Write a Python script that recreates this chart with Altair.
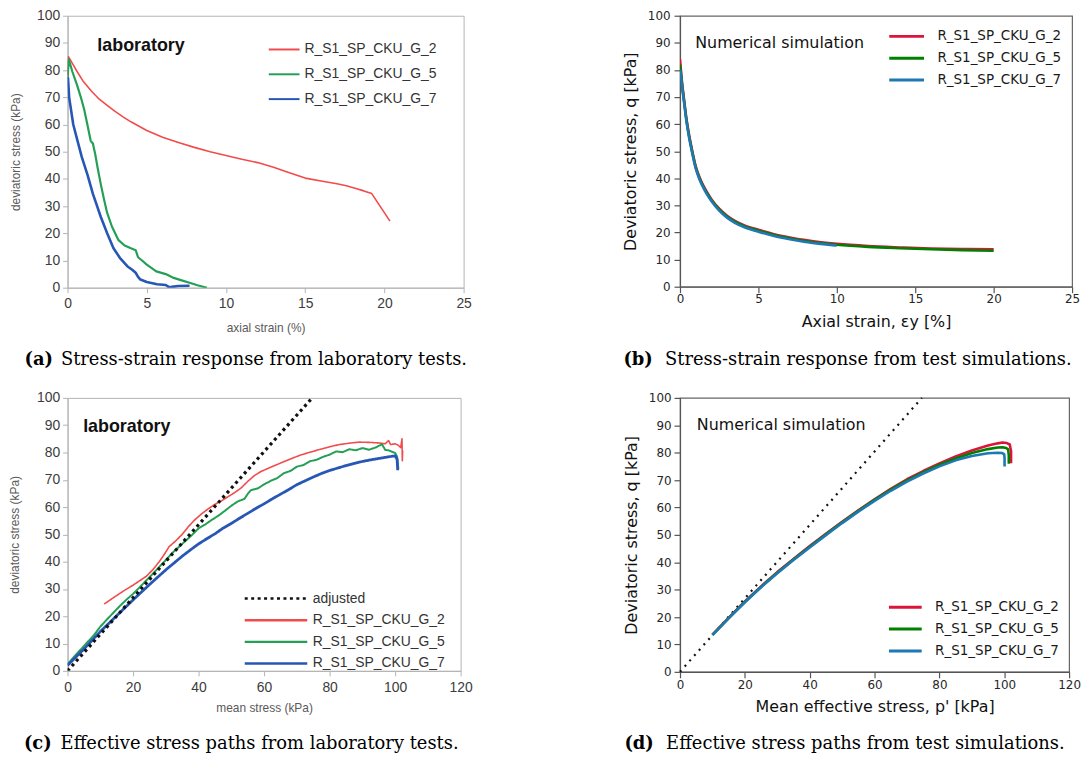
import altair as alt
import pandas as pd

S2 = "R_S1_SP_CKU_G_2"
S5 = "R_S1_SP_CKU_G_5"
S7 = "R_S1_SP_CKU_G_7"
ADJ = "adjusted"
SERIES = [S2, S5, S7]
C_SERIES = [ADJ, S2, S5, S7]

LAB_COLORS = ["#f24b4b", "#23a055", "#2757b5"]
SIM_COLORS = ["#dc143c", "#008000", "#1f77b4"]

LAB_FONT = "Liberation Sans"
SIM_FONT = "DejaVu Sans"
CAP_FONT = "DejaVu Serif"

# ---------------- (a) laboratory stress-strain ----------------
a2_x = [0, 0.05, 0.15, 0.35, 0.6, 1.0, 1.5, 2.0, 2.5, 3.0, 3.5, 4.0, 5.0, 6.0, 7.0, 8.0, 9.0, 10.0,
        11.0, 12.0, 13.0, 14.0, 15.0, 16.0, 17.0, 17.6, 18.2, 18.7, 19.2, 20.35]
a2_y = [78, 85, 84, 82, 79.5, 75.8, 72.3, 69.3, 67, 64.8, 62.8, 61, 57.8, 55.3, 53.4, 51.6, 50, 48.6,
        47.2, 46, 44.3, 42.3, 40.3, 39.2, 38.2, 37.5, 36.5, 35.6, 34.6, 24.5]
a5_x = [0, 0.08, 0.3, 0.6, 0.84, 1.05, 1.25, 1.46, 1.6, 1.75, 1.9, 2.1, 2.3, 2.5, 2.8, 3.2, 3.6, 4.0,
        4.3, 4.45, 4.7, 5.0, 5.6, 6.2, 6.7, 7.2, 7.7, 8.2, 8.8]
a5_y = [77, 84, 79.5, 74.5, 70, 65.5, 60, 54, 53, 49, 44, 38, 32.5, 27.5, 22.5, 17.6, 15.5, 14.5,
        13.8, 11.2, 10, 8.5, 6, 5, 3.6, 2.7, 1.8, 0.9, 0]
a7_x = [0, 0.03, 0.1, 0.36, 0.63, 0.9, 1.26, 1.6, 2.1, 2.5, 2.9, 3.3, 3.77, 4.1, 4.3, 4.45, 4.6, 5.0,
        5.65, 6.2, 6.4, 6.7, 7.0, 7.7]
a7_y = [74, 77, 70, 60, 54, 48, 41.5, 34.5, 26, 20, 14.5, 11, 7.9, 6.5, 5.5, 4, 3, 2.1,
        1.3, 1.0, 0.2, 0.4, 0.6, 0.7]

# ---------------- (b) simulated stress-strain ----------------
b_x = [0, 0.05, 0.12, 0.25, 0.4, 0.55, 0.75, 1.0, 1.25, 1.5, 1.75, 2.0, 2.5, 3.0, 3.5, 4.0, 5.0, 6.0,
       7.0, 8.0, 9.0, 10.0, 12.0, 14.0, 16.0, 18.0, 20.0]
b2_y = [84, 80.5, 76, 69.5, 62.5, 57, 51, 44.5, 40.3, 37.2, 34.6, 32.3, 28.8, 26.2, 24.3, 22.9, 21.0, 19.4,
        18.2, 17.2, 16.4, 15.8, 15.0, 14.5, 14.1, 13.9, 13.8]
b5_y = [82, 79.5, 75.3, 69, 62, 56.5, 50.6, 44.1, 39.9, 36.8, 34.2, 32.0, 28.5, 25.9, 24.0, 22.6, 20.7, 19.1,
        17.9, 16.9, 16.1, 15.5, 14.7, 14.2, 13.8, 13.5, 13.3]
b7_x = [0, 0.05, 0.12, 0.25, 0.4, 0.55, 0.75, 1.0, 1.25, 1.5, 1.75, 2.0, 2.5, 3.0, 3.5, 4.0, 5.0, 6.0,
        7.0, 8.0, 9.0, 10.0]
b7_y = [80, 78.5, 74.6, 68.5, 61.5, 56, 50.1, 43.7, 39.5, 36.4, 33.8, 31.6, 28.1, 25.5, 23.6, 22.2, 20.3, 18.7,
        17.5, 16.5, 15.8, 15.2]

# ---------------- (c) laboratory stress paths ----------------
adj_x = [0, 74.7]
adj_y = [0, 100]
c2_x = [11.2, 14, 17, 20, 22, 24, 26, 28, 29.5, 31, 33, 35, 37, 39, 41, 43, 45, 47, 49, 51, 53, 55, 57, 59,
        62, 65, 68, 71, 74, 77, 80, 83, 86, 89, 92, 95, 97, 98, 98.6, 100, 101, 101.7, 102.1, 102.2, 102.3, 102.2]
c2_y = [24.5, 26.8, 29.2, 31.4, 33, 34.6, 37, 40, 42.6, 45.5, 47.6, 50, 53, 55.5, 57.6, 59.4, 61, 62.3, 63.8,
        65.3, 67, 69.4, 71.5, 73, 74.6, 76.1, 77.6, 79, 80.1, 81.1, 82.1, 82.9, 83.4, 83.8, 83.7, 83.5, 83.2,
        84.4, 82.9, 83.2, 82.6, 81.8, 85, 77, 80.5, 78.5]
c5_x = [0, 2, 4, 6, 8, 10, 12, 14, 16, 18, 20, 22, 24, 26, 28, 30, 32, 34, 36, 38, 40, 42, 44, 46, 48, 50,
        52, 54, 55, 56, 58, 60, 62, 64, 66, 68, 70, 72, 74, 76, 78, 80, 82, 84, 86, 88, 90, 92, 94, 96, 97,
        98, 100, 100.6, 101]
c5_y = [2.5, 5.2, 7.8, 10.4, 13, 16.2, 18.8, 21.3, 23.8, 26.1, 28.2, 30.6, 33.1, 35.5, 38.1, 40.6, 43.2,
        45.4, 47.6, 49.8, 52.2, 53.6, 55.3, 56.8, 58.6, 60.5, 62.1, 63.0, 64.8, 66.2, 66.8, 68.3, 69.6, 70.6,
        72.4, 73.2, 74.8, 75.4, 76.8, 77.3, 78.4, 79.2, 80.4, 80.1, 81.2, 80.8, 81.6, 81.0, 81.8, 83.0, 80.9,
        80.8, 79.8, 78.5, 74]
c7_x = [0, 2.5, 5, 7.5, 10, 12.5, 15, 17.5, 20, 22.5, 25, 27.5, 30, 32.5, 35, 37.5, 40, 42.5, 45, 47.5, 50,
        52.5, 55, 57.5, 60, 62.5, 65, 67.5, 70, 72.5, 75, 77.5, 80, 82.5, 85, 87.5, 90, 92.5, 95, 97.5, 99,
        100, 100.6, 100.8]
c7_y = [2, 5, 8, 11.2, 14.4, 17.3, 20.2, 23.1, 26, 28.8, 31.6, 34.3, 37, 39.5, 42, 44.3, 46.5, 48.4, 50.2,
        52.3, 54, 55.9, 57.7, 59.5, 61.2, 63.0, 64.7, 66.4, 68.2, 69.6, 71, 72.3, 73.4, 74.3, 75.2, 76, 76.7,
        77.3, 77.8, 78.3, 78.6, 78.8, 77.5, 73.5]

# ---------------- (d) simulated stress paths ----------------
dd_x = [0, 74.6]
dd_y = [0, 100]
d2_x = [10, 15, 20, 25, 30, 35, 40, 45, 50, 55, 60, 65, 70, 75, 80, 85, 90, 95, 98, 99.5, 100.8, 101.7,
        102.1, 102.1]
d2_y = [13.6, 19.7, 25.7, 31.2, 36.4, 41.2, 45.9, 50.4, 54.8, 59.0, 63.0, 66.8, 70.3, 73.3, 76.1, 78.6,
        80.8, 82.6, 83.4, 83.7, 83.5, 83.0, 80.5, 76.1]
d5_x = [10, 15, 20, 25, 30, 35, 40, 45, 50, 55, 60, 65, 70, 75, 80, 85, 90, 95, 98, 99.5, 100.6, 101.2,
        101.4, 101.4]
d5_y = [13.5, 19.6, 25.5, 31, 36.2, 41, 45.7, 50.2, 54.6, 58.8, 62.8, 66.5, 69.9, 72.9, 75.6, 77.9, 79.9,
        81.3, 81.9, 82.0, 81.7, 81.2, 79, 76]
d7_x = [10, 15, 20, 25, 30, 35, 40, 45, 50, 55, 60, 65, 70, 75, 80, 85, 90, 95, 98, 99.3, 100, 100.1, 100.1]
d7_y = [13.4, 19.5, 25.4, 30.9, 36.0, 40.8, 45.4, 49.9, 54.3, 58.5, 62.4, 66.1, 69.4, 72.4, 75.0, 77.2,
        78.8, 79.8, 80.0, 79.9, 79.4, 78, 75]

X_TICKS_25 = [0, 5, 10, 15, 20, 25]
X_TICKS_120 = [0, 20, 40, 60, 80, 100, 120]
Y_TICKS = [0, 10, 20, 30, 40, 50, 60, 70, 80, 90, 100]


def to_long(series_list):
    rows = []
    for name, xs, ys in series_list:
        for i, (xv, yv) in enumerate(zip(xs, ys)):
            rows.append({"series": name, "x": xv, "y": yv, "i": i})
    return pd.DataFrame(rows)


def lab_axis(values, title, label_pad, title_pad):
    return alt.Axis(values=values, title=title, grid=False, domainColor="#b3b3b3", domainWidth=1,
                    tickColor="#b3b3b3", tickSize=5, tickWidth=1, labelFont=LAB_FONT, labelFontSize=14,
                    labelColor="#3c3c3c", labelPadding=label_pad, labelFlush=False, labelOverlap=False,
                    titleFont=LAB_FONT, titleFontSize=12, titleFontWeight="normal", titleColor="#5a5a5a",
                    titlePadding=title_pad)


def sim_axis(values, title, label_pad, title_pad):
    return alt.Axis(values=values, title=title, grid=False, domainColor="#555555", domainWidth=1.2,
                    tickColor="#555555", tickSize=6, tickWidth=1.2, labelFont=SIM_FONT, labelFontSize=12,
                    labelColor="#262626", labelPadding=label_pad, labelFlush=False, labelOverlap=False,
                    titleFont=SIM_FONT, titleFontSize=16, titleFontWeight="normal", titleColor="#111111",
                    titlePadding=title_pad)


def caption(letter, text, x_letter, x_text, y):
    base = alt.Chart(pd.DataFrame({"k": [0]}))
    m1 = base.mark_text(text=letter, font=CAP_FONT, fontSize=18, fontWeight="bold", align="left",
                        baseline="middle", color="#000000").encode(x=alt.value(x_letter), y=alt.value(y))
    m2 = base.mark_text(text=text, font=CAP_FONT, fontSize=18, align="left",
                        baseline="middle", color="#000000").encode(x=alt.value(x_text), y=alt.value(y))
    return [m1, m2]


def note(text, xv, yv, X, Y, font, size, weight):
    df = pd.DataFrame({"x": [xv], "y": [yv], "t": [text]})
    return alt.Chart(df).mark_text(align="left", baseline="middle", font=font, fontSize=size,
                                   fontWeight=weight, color="#111111").encode(x=X, y=Y, text="t:N")


def legend(font, size, color, lx, ly, k, d, sw, label_off, row_pad):
    return alt.Legend(orient="none", legendX=lx, legendY=ly, title=None, padding=0,
                      symbolType=f"M-{k},0H{k}", symbolSize=d * d, symbolStrokeWidth=sw,
                      symbolOffset=0, labelFont=font, labelFontSize=size, labelColor=color,
                      labelOffset=label_off, rowPadding=row_pad, labelLimit=400)


def series_lines(df, names, widths, X, Y, color, dash=None, interpolate="linear"):
    layers = []
    for name, w in zip(names, widths):
        enc = dict(x=X, y=Y, color=color, order="i:Q")
        if dash is not None:
            enc["strokeDash"] = dash
        layers.append(
            alt.Chart(df).transform_filter(alt.datum.series == name)
            .mark_line(clip=True, strokeWidth=w, strokeJoin="round", interpolate=interpolate)
            .encode(**enc)
        )
    return layers


# ---------- panel (a) ----------
Xa = alt.X("x:Q", scale=alt.Scale(domain=[0, 25], nice=False, zero=False),
           axis=lab_axis(X_TICKS_25, "axial strain (%)", 4, 12))
Ya = alt.Y("y:Q", scale=alt.Scale(domain=[0, 100], nice=False),
           axis=lab_axis(Y_TICKS, "deviatoric stress (kPa)", 3, 14))
df_a = to_long([(S2, a2_x, a2_y), (S5, a5_x, a5_y), (S7, a7_x, a7_y)])
col_a = alt.Color("series:N", scale=alt.Scale(domain=SERIES, range=LAB_COLORS),
                  legend=legend(LAB_FONT, 14, "#333333", 209.2, 25, 2, 15.5, 2, 11.5, 9))
panel_a = alt.layer(
    *series_lines(df_a, SERIES, [1.6, 2.2, 2.6], Xa, Ya, col_a),
    note("laboratory", 1.88, 89.0, Xa, Ya, LAB_FONT, 18, "bold"),
    *caption("(a)", "Stress-strain response from laboratory tests.", -43.3, -6.7, 347),
).properties(width=399, height=274, view=alt.ViewBackground(stroke="#b3b3b3", strokeWidth=1))

# ---------- panel (b) ----------
Xb = alt.X("x:Q", scale=alt.Scale(domain=[0, 25], nice=False, zero=False),
           axis=sim_axis(X_TICKS_25, "Axial strain, εy [%]", 1, 9))
Yb = alt.Y("y:Q", scale=alt.Scale(domain=[0, 100], nice=False),
           axis=sim_axis(Y_TICKS, "Deviatoric stress, q [kPa]", 4, 8.5))
df_b = to_long([(S2, b_x, b2_y), (S5, b_x, b5_y), (S7, b7_x, b7_y)])
col_b = alt.Color("series:N", scale=alt.Scale(domain=SERIES, range=SIM_COLORS),
                  legend=legend(SIM_FONT, 13.6, "#1a1a1a", 217.8, 10.3, 2, 17.5, 3, 20.5, 4))
panel_b = alt.layer(
    *series_lines(df_b, SERIES, [2.6, 2.6, 2.6], Xb, Yb, col_b, interpolate="monotone"),
    note("Numerical simulation", 0.97, 89.9, Xb, Yb, SIM_FONT, 16, "normal"),
    *caption("(b)", "Stress-strain response from test simulations.", -57, -15, 347),
).properties(width=395, height=273, view=alt.ViewBackground(stroke="#666666", strokeWidth=1.2))

# ---------- panel (c) ----------
Xc = alt.X("x:Q", scale=alt.Scale(domain=[0, 120], nice=False, zero=False),
           axis=lab_axis(X_TICKS_120, "mean stress (kPa)", 5, 8))
Yc = alt.Y("y:Q", scale=alt.Scale(domain=[0, 100], nice=False),
           axis=lab_axis(Y_TICKS, "deviatoric stress (kPa)", 3, 14.6))
df_c = to_long([(S2, c2_x, c2_y), (S5, c5_x, c5_y), (S7, c7_x, c7_y), (ADJ, adj_x, adj_y)])
leg_c = legend(LAB_FONT, 14, "#333333", 201.5, 193.7, 4.5, 14, 2.5, 28.5, 5.8)
col_c = alt.Color("series:N", scale=alt.Scale(domain=C_SERIES, range=["#111111"] + LAB_COLORS), legend=leg_c)
dash_c = alt.StrokeDash("series:N", scale=alt.Scale(domain=C_SERIES, range=[[3, 3.5], [1, 0], [1, 0], [1, 0]]),
                        legend=leg_c)
panel_c = alt.layer(
    *series_lines(df_c, [S2, S5, S7, ADJ], [1.6, 2.0, 2.8, 3.2], Xc, Yc, col_c, dash=dash_c),
    note("laboratory", 4.76, 89.5, Xc, Yc, LAB_FONT, 18, "bold"),
    *caption("(c)", "Effective stress paths from laboratory tests.", -44, -7, 349),
).properties(width=396, height=275, view=alt.ViewBackground(stroke="#b3b3b3", strokeWidth=1))

# ---------- panel (d) ----------
Xd = alt.X("x:Q", scale=alt.Scale(domain=[0, 120], nice=False, zero=False),
           axis=sim_axis(X_TICKS_120, "Mean effective stress, p' [kPa]", 1.6, 8.7))
Yd = alt.Y("y:Q", scale=alt.Scale(domain=[0, 100], nice=False),
           axis=sim_axis(Y_TICKS, "Deviatoric stress, q [kPa]", 3, 9))
df_d = to_long([(S2, d2_x, d2_y), (S5, d5_x, d5_y), (S7, d7_x, d7_y)])
df_dd = pd.DataFrame({"x": dd_x, "y": dd_y})
dotted_d = alt.Chart(df_dd).mark_line(color="#111111", strokeWidth=2.2, strokeDash=[2, 5.2]).encode(x=Xd, y=Yd)
col_d = alt.Color("series:N", scale=alt.Scale(domain=SERIES, range=SIM_COLORS),
                  legend=legend(SIM_FONT, 13.6, "#1a1a1a", 217, 200.9, 2, 16.5, 3, 20, 5))
panel_d = alt.layer(
    dotted_d,
    *series_lines(df_d, SERIES, [2.6, 2.6, 2.6], Xd, Yd, col_d),
    note("Numerical simulation", 5.2, 90.1, Xd, Yd, SIM_FONT, 16, "normal"),
    *caption("(d)", "Effective stress paths from test simulations.", -56, -14, 349),
).properties(width=392, height=276, view=alt.ViewBackground(stroke="#666666", strokeWidth=1.2))

chart = alt.concat(panel_a, panel_b, panel_c, panel_d, columns=2, bounds="flush",
                   spacing={"row": 111, "column": 218}).resolve_scale(
    x="independent", y="independent", color="independent", strokeDash="independent"
).resolve_legend(color="independent", strokeDash="independent").properties(
    padding={"left": 0, "top": -3, "right": 0, "bottom": 0}
).configure(background="white")

chart.save("out.html", embed_options={"renderer": "svg", "actions": False})
